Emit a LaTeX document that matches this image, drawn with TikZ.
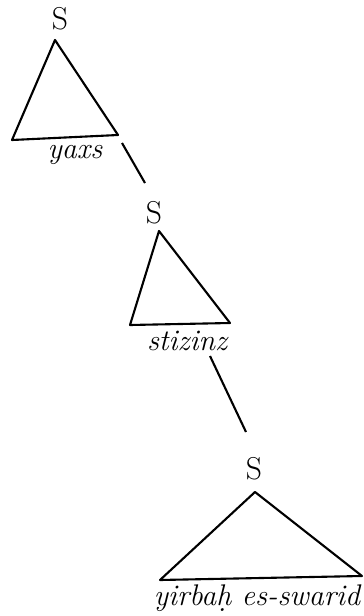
\documentclass[tikz,border=0pt]{standalone}
\tikzset{
  cat/.style={inner sep=0pt, font=\fontsize{18}{20}\selectfont},
  word/.style={inner sep=0pt, anchor=base, font=\fontsize{17}{20}\selectfont\itshape},
  tri/.style={line width=1.2pt, line join=round},
}
\begin{document}
\begin{tikzpicture}[x=0.02cm, y=-0.02cm]
    \useasboundingbox (0,0) rectangle (363,616);
    % first S
    \node[cat] (s1) at (60,19) {S};
    \coordinate (top1) at (55,40);
    \coordinate (left1) at (12,140);
    \coordinate (right1) at (118,135);
    \draw[tri] (top1)--(left1)--(right1)--cycle;
    \node[word] (w1) at (75,158) {yaxs};
    % second S
    \node[cat] (s2) at (154,213) {S};
    \coordinate (top2) at (159,231);
    \coordinate (left2) at (130,325);
    \coordinate (right2) at (230,323);
    \draw[tri] (top2)--(left2)--(right2)--cycle;
    \node[word] (w2) at (187,350) {stizinz};
    % third S
    \node[cat] (s3) at (254,469) {S};
    \coordinate (top3) at (255,492);
    \coordinate (left3) at (160,580);
    \coordinate (right3) at (362,576);
    \draw[tri] (top3)--(left3)--(right3)--cycle;
    \node[word] (w3) at (257,605) {yirba\d{h} es-swarid};
    % links
    \coordinate (a1) at (122,143);
    \coordinate (b1) at (145,183);
    \coordinate (a2) at (210,356);
    \coordinate (b2) at (246,432);
    \draw[line width=1.2pt] (a1)--(b1);
    \draw[line width=1.2pt] (a2)--(b2);
\end{tikzpicture}
\end{document}
